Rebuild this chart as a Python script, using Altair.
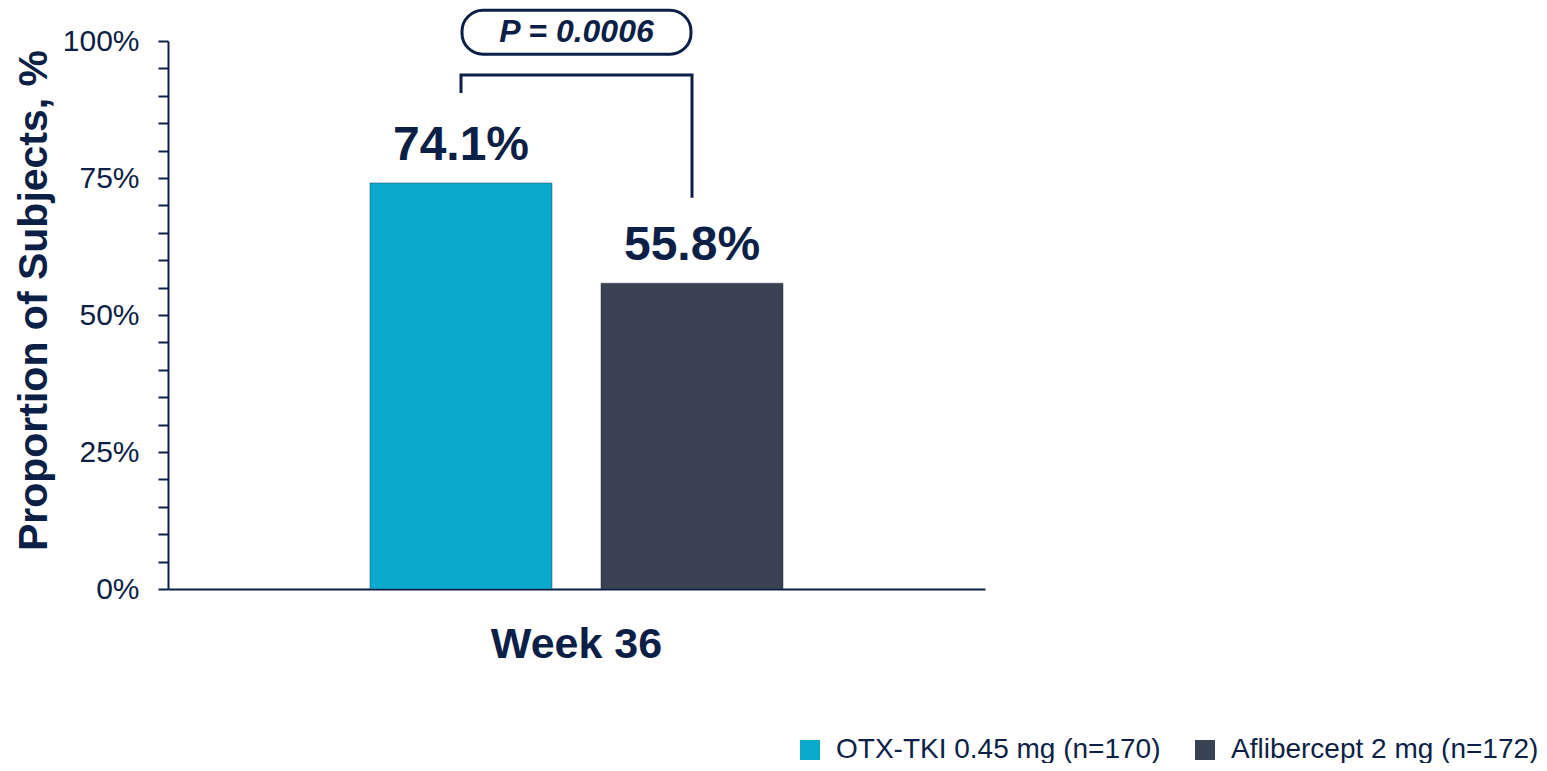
import altair as alt
import pandas as pd

# ---- data ----
timepoint = "Week 36"
groups = ["OTX-TKI 0.45 mg (n=170)", "Aflibercept 2 mg (n=172)"]
values = [74.1, 55.8]
value_labels = ["74.1%", "55.8%"]
colors = ["#0AAACD", "#384253"]

bracket_group = [groups[0], groups[0], groups[1], groups[1]]
bracket_y = [90.5, 93.8, 93.8, 71.4]
bracket_order = [0, 1, 2, 3]

p_label = "P = 0.0006"
p_box_low, p_box_high, p_text_y = 97.6, 105.6, 101.6

y_ticks = list(range(0, 101, 5))

NAVY = "#0C1F47"
FONT = "Liberation Sans"
Y_TITLE = "Proportion of Subjects, %"

bars_df = pd.DataFrame({"time": [timepoint] * 2, "group": groups,
                        "value": values, "label": value_labels})
bracket_df = pd.DataFrame({"time": [timepoint] * 4, "group": bracket_group,
                           "y": bracket_y, "order": bracket_order})
p_df = pd.DataFrame({"time": [timepoint], "lo": [p_box_low], "hi": [p_box_high],
                     "ty": [p_text_y], "label": [p_label]})

x_axis = alt.Axis(labelFontSize=43, labelFontWeight="bold", labelColor=NAVY,
                  labelFont=FONT, labelAngle=0, labelPadding=34, ticks=False,
                  domainColor=NAVY, domainWidth=2)
x_scale = alt.Scale(paddingInner=0, paddingOuter=0.489)
xoff_enc = alt.XOffset("group:N", sort=groups,
                       scale=alt.Scale(paddingInner=0.212, paddingOuter=0))
y_scale = alt.Scale(domain=[0, 100], nice=False)
y_axis = alt.Axis(values=y_ticks,
                  labelExpr="datum.value % 25 === 0 ? datum.value + '%' : ''",
                  labelOverlap=False, labelFontSize=30, labelColor=NAVY, labelFont=FONT,
                  labelPadding=19, tickSize=10, tickColor=NAVY, tickWidth=2,
                  domainColor=NAVY, domainWidth=2, grid=False,
                  titleFontSize=41, titleFontWeight="bold", titleColor=NAVY,
                  titleFont=FONT, titlePadding=7, titleY=259)


def X():
    return alt.X("time:N", title=None, scale=x_scale, axis=x_axis)


def Y(field):
    return alt.Y(field, scale=y_scale, title=Y_TITLE, axis=y_axis)


bars = alt.Chart(bars_df).mark_bar(stroke="#1c2535", strokeWidth=0.8, strokeOpacity=0.5).encode(
    x=X(),
    xOffset=xoff_enc,
    y=Y("value:Q"),
    color=alt.Color("group:N", scale=alt.Scale(domain=groups, range=colors),
                    legend=alt.Legend(title=None, orient="none", direction="horizontal",
                                      legendX=628, legendY=695, symbolType="square",
                                      symbolSize=400, symbolStrokeWidth=0,
                                      labelFontSize=28, labelFont=FONT, labelColor=NAVY,
                                      labelOffset=12, columnPadding=30, labelLimit=500)),
)

texts = alt.Chart(bars_df).mark_text(fontSize=48, fontWeight="bold", font=FONT,
                                     color=NAVY, baseline="alphabetic", dy=-23).encode(
    x=X(), xOffset=xoff_enc, y=Y("value:Q"), text="label:N")

bracket = alt.Chart(bracket_df).mark_line(color=NAVY, strokeWidth=3).encode(
    x=X(), xOffset=xoff_enc, y=Y("y:Q"), order="order:Q")

pbox = alt.Chart(p_df).mark_bar(width=229, cornerRadius=21, fill="white",
                                stroke=NAVY, strokeWidth=3).encode(
    x=X(), y=Y("lo:Q"), y2="hi:Q")

ptext = alt.Chart(p_df).mark_text(fontSize=32, fontWeight="bold", fontStyle="italic",
                                  font=FONT, color=NAVY, baseline="middle").encode(
    x=X(), y=Y("ty:Q"), text="label:N")

chart = alt.layer(bars, texts, bracket, pbox, ptext).properties(
    width=817, height=548,
    autosize=alt.AutoSizeParams(type="none"),
    padding={"left": 160, "top": 33, "right": 554, "bottom": 174},
).configure(background="white", view=alt.ViewConfig(stroke=None))

chart.save("out.html", embed_options={"renderer": "svg", "actions": False})
